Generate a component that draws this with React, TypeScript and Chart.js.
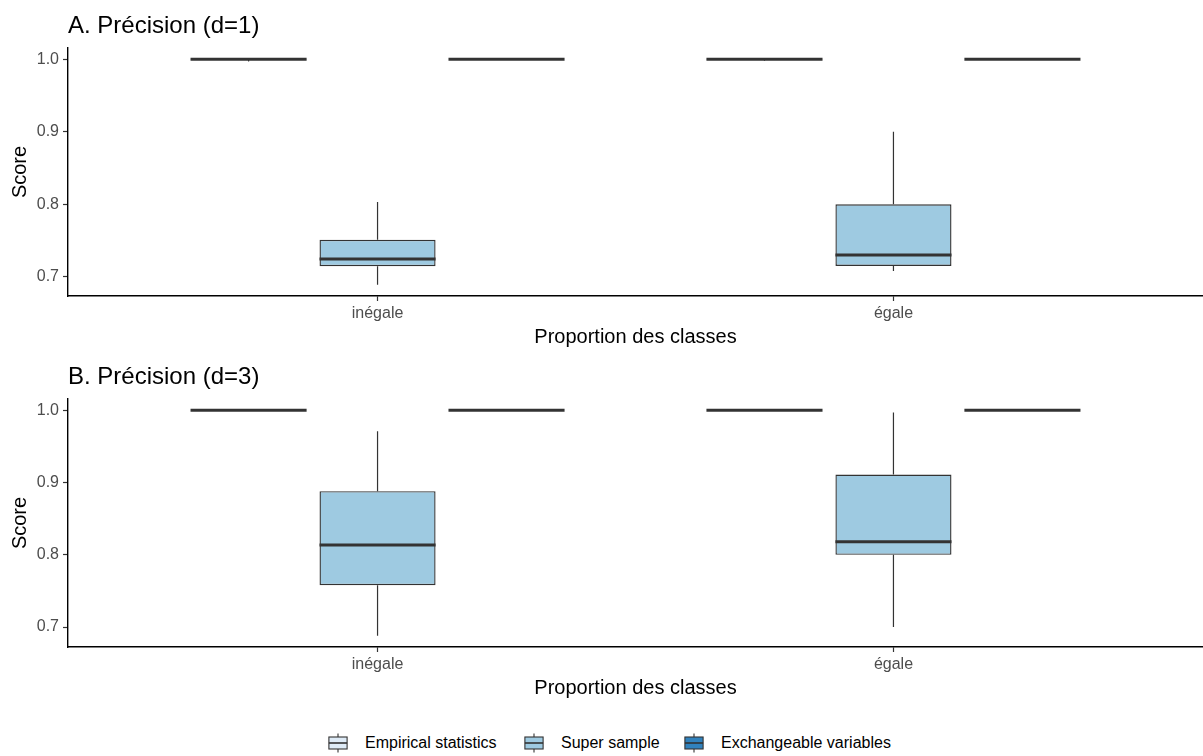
import React, { useEffect, useRef } from 'react';
import { Chart, registerables } from 'chart.js';

Chart.register(...registerables);

const FONT = '"Liberation Sans", Arial, Helvetica, sans-serif';
Chart.defaults.font.family = FONT;

// ---------- data ----------
const categories = ['inégale', 'égale'];
const groups = ['Empirical statistics', 'Super sample', 'Exchangeable variables'];
const groupColors = ['#DEEBF7', '#9ECAE1', '#3182BD'];
const yTicks = [0.7, 0.8, 0.9, 1.0];
const xTitle = 'Proportion des classes';
const yTitle = 'Score';

// each entry: [lower whisker, Q1, median, Q3, upper whisker], one per category
const d1Empirical = [
  [0.997, 0.9993, 1.0, 1.0, 1.0],
  [0.998, 0.9995, 1.0, 1.0, 1.0],
];
const d1Super = [
  [0.689, 0.7145, 0.7245, 0.751, 0.803],
  [0.708, 0.715, 0.73, 0.8, 0.9],
];
const d1Exchangeable = [
  [1.0, 1.0, 1.0, 1.0, 1.0],
  [1.0, 1.0, 1.0, 1.0, 1.0],
];

const d3Empirical = [
  [1.0, 1.0, 1.0, 1.0, 1.0],
  [1.0, 1.0, 1.0, 1.0, 1.0],
];
const d3Super = [
  [0.688, 0.758, 0.8135, 0.888, 0.971],
  [0.7, 0.8, 0.818, 0.911, 0.997],
];
const d3Exchangeable = [
  [1.0, 1.0, 1.0, 1.0, 1.0],
  [1.0, 1.0, 1.0, 1.0, 1.0],
];

const panelATitle = 'A. Précision (d=1)';
const panelBTitle = 'B. Précision (d=3)';

// ---------- plugins ----------
const boxplotPlugin = {
  id: 'boxWhiskers',
  beforeDatasetsDraw(chart: any) {
    const ctx = chart.ctx;
    const y = chart.scales.y;
    ctx.save();
    ctx.strokeStyle = '#333333';
    ctx.lineWidth = 1.2;
    chart.data.datasets.forEach((ds: any, di: number) => {
      const meta = chart.getDatasetMeta(di);
      meta.data.forEach((el: any, j: number) => {
        const st = ds.data[j].stats;
        const x = el.x;
        ctx.beginPath();
        ctx.moveTo(x, y.getPixelForValue(st[0]));
        ctx.lineTo(x, y.getPixelForValue(st[1]));
        ctx.moveTo(x, y.getPixelForValue(st[3]));
        ctx.lineTo(x, y.getPixelForValue(st[4]));
        ctx.stroke();
      });
    });
    ctx.restore();
  },
  afterDatasetsDraw(chart: any) {
    const ctx = chart.ctx;
    const y = chart.scales.y;
    ctx.save();
    ctx.strokeStyle = '#333333';
    ctx.lineWidth = 3;
    ctx.lineCap = 'butt';
    chart.data.datasets.forEach((ds: any, di: number) => {
      const meta = chart.getDatasetMeta(di);
      meta.data.forEach((el: any, j: number) => {
        const st = ds.data[j].stats;
        const py = y.getPixelForValue(st[2]);
        const half = el.width / 2;
        ctx.beginPath();
        ctx.moveTo(el.x - half, py);
        ctx.lineTo(el.x + half, py);
        ctx.stroke();
      });
    });
    ctx.restore();
  },
};

const titlePlugin = {
  id: 'panelTitle',
  afterDraw(chart: any, _args: any, opts: any) {
    const ctx = chart.ctx;
    ctx.save();
    ctx.font = `24px ${FONT}`;
    ctx.fillStyle = '#000000';
    ctx.textAlign = 'left';
    ctx.textBaseline = 'alphabetic';
    ctx.fillText(opts.text, chart.chartArea.left, chart.chartArea.top - 15);
    ctx.restore();
  },
};

// ---------- panel ----------
function Panel({ title, series, top }: { title: string; series: number[][][]; top: number }) {
  const ref = useRef<HTMLCanvasElement | null>(null);

  useEffect(() => {
    const all = series.flat(2);
    const lo = Math.min(...all);
    const hi = Math.max(...all);
    const pad = (hi - lo) * 0.05;

    const gridOpts = {
      display: true,
      drawOnChartArea: false,
      drawTicks: true,
      offset: false,
      tickLength: 5,
      tickColor: '#333333',
      tickWidth: 1.2,
    };
    const borderOpts = { display: true, color: '#000000', width: 1.4 };

    const chart = new Chart(ref.current as HTMLCanvasElement, {
      type: 'bar',
      data: {
        datasets: series.map((s, gi) => ({
          label: groups[gi],
          data: s.map((st, ci) => ({ x: ci + 1, y: [st[1], st[3]], stats: st })),
          backgroundColor: groupColors[gi],
          borderColor: '#333333',
          borderWidth: 1.4,
          borderSkipped: false,
          categoryPercentage: 0.75,
          barPercentage: 0.9,
        })) as any,
      },
      options: {
        responsive: false,
        animation: false,
        devicePixelRatio: 1,
        events: [],
        layout: { padding: { top: 48, left: 0, right: 0, bottom: 0 } },
        plugins: {
          legend: { display: false },
          tooltip: { enabled: false },
          panelTitle: { text: title },
        } as any,
        scales: {
          x: {
            type: 'linear',
            min: 0.4,
            max: categories.length + 0.6,
            offset: false,
            afterBuildTicks: (s: any) => {
              s.ticks = categories.map((_, i) => ({ value: i + 1 }));
            },
            afterFit: (s: any) => {
              s.height = 56;
            },
            ticks: {
              callback: (v: any) => categories[Math.round(Number(v)) - 1] ?? '',
              color: '#4D4D4D',
              font: { size: 16 },
              padding: 3,
              autoSkip: false,
              maxRotation: 0,
            },
            grid: gridOpts,
            border: borderOpts,
            title: {
              display: true,
              text: xTitle,
              color: '#000000',
              font: { size: 20 },
              padding: { top: 0, bottom: 3 },
            },
          },
          y: {
            type: 'linear',
            position: 'left',
            min: lo - pad,
            max: hi + pad,
            afterBuildTicks: (s: any) => {
              s.ticks = yTicks.map((v) => ({ value: v }));
            },
            afterFit: (s: any) => {
              s.width = 68;
            },
            ticks: {
              callback: (v: any) => Number(v).toFixed(1),
              color: '#4D4D4D',
              font: { size: 16 },
              padding: 4,
            },
            grid: gridOpts,
            border: borderOpts,
            title: {
              display: true,
              text: yTitle,
              color: '#000000',
              font: { size: 20 },
              padding: { top: 8, bottom: 0 },
            },
          },
        } as any,
      },
      plugins: [boxplotPlugin, titlePlugin],
    });
    return () => chart.destroy();
  }, []);

  return (
    <canvas
      ref={ref}
      width={1203}
      height={352}
      style={{ position: 'absolute', left: 0, top, width: 1203, height: 352, display: 'block' }}
    />
  );
}

function LegendKey({ color }: { color: string }) {
  return (
    <svg width={24} height={24} style={{ display: 'block' }}>
      <line x1={12} y1={2.4} x2={12} y2={6} stroke="#333333" strokeWidth={1.1} />
      <line x1={12} y1={18} x2={12} y2={21.6} stroke="#333333" strokeWidth={1.1} />
      <rect x={2.9} y={6} width={18.2} height={12} fill={color} stroke="#333333" strokeWidth={1.1} />
      <line x1={2.9} y1={12} x2={21.1} y2={12} stroke="#333333" strokeWidth={1.6} />
    </svg>
  );
}

const legendKeyLefts = [326, 522, 682];

export default function App() {
  return (
    <div
      style={{
        position: 'absolute',
        left: 0,
        top: 0,
        width: 1203,
        height: 756,
        background: '#ffffff',
        overflow: 'hidden',
      }}
    >
      <Panel title={panelATitle} series={[d1Empirical, d1Super, d1Exchangeable]} top={0} />
      <Panel title={panelBTitle} series={[d3Empirical, d3Super, d3Exchangeable]} top={351} />
      {groups.map((g, i) => (
        <div
          key={g}
          style={{
            position: 'absolute',
            left: legendKeyLefts[i],
            top: 731,
            height: 24,
            display: 'flex',
            alignItems: 'center',
            whiteSpace: 'nowrap',
          }}
        >
          <LegendKey color={groupColors[i]} />
          <span
            style={{
              marginLeft: 15,
              fontFamily: FONT,
              fontSize: 16,
              color: '#000000',
              lineHeight: '24px',
            }}
          >
            {g}
          </span>
        </div>
      ))}
    </div>
  );
}
